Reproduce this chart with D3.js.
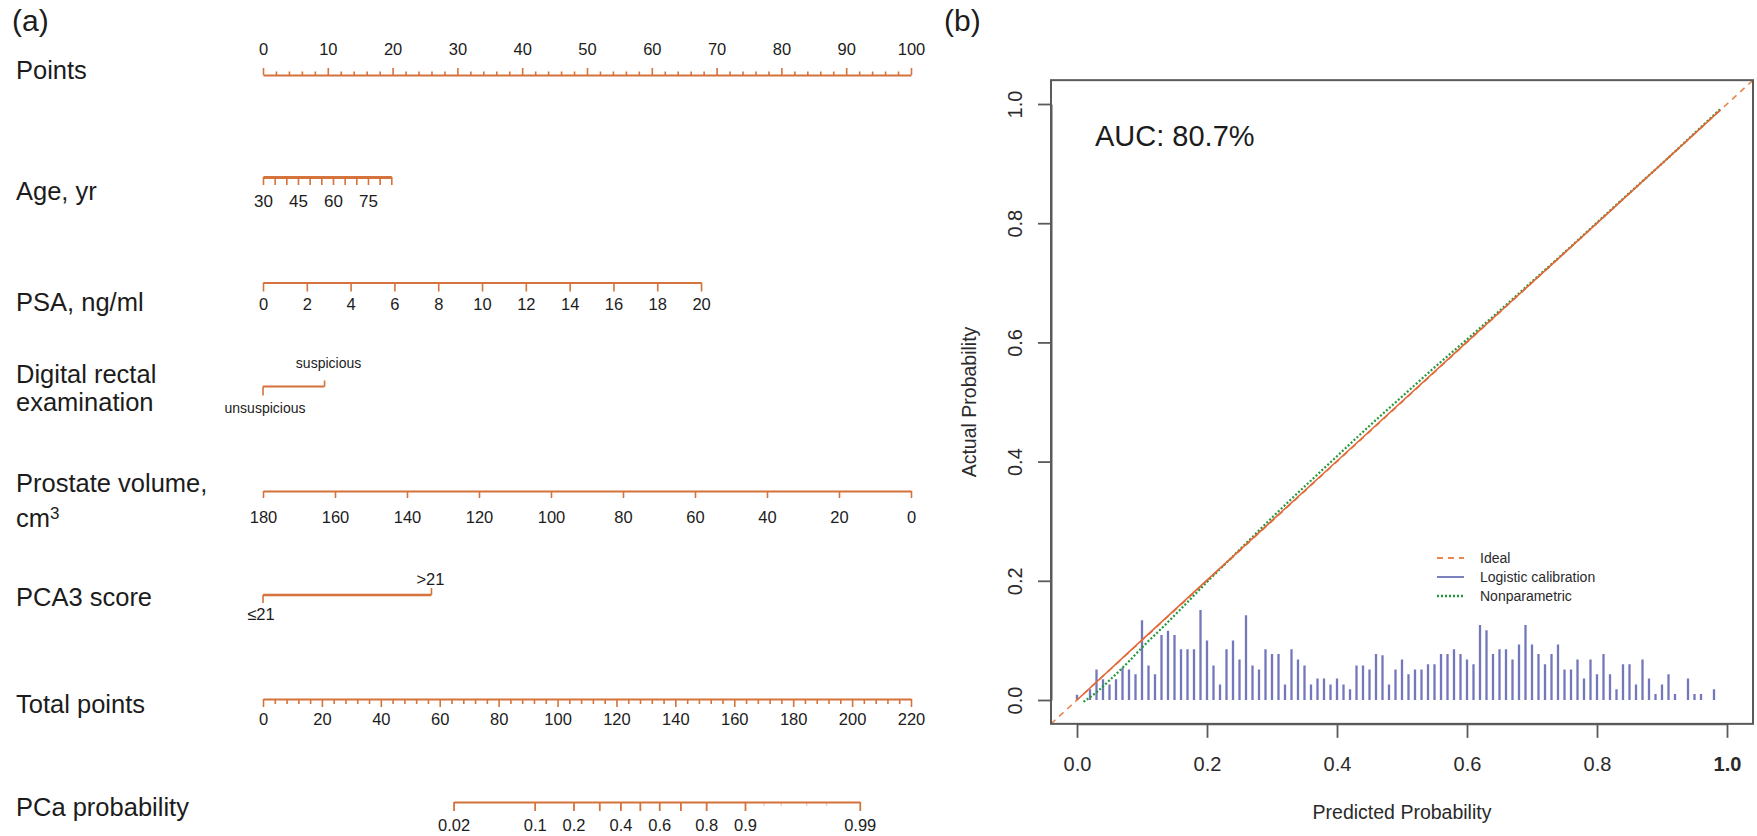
<!DOCTYPE html>
<html><head><meta charset="utf-8">
<script src="https://cdn.jsdelivr.net/npm/d3@7"></script>
<style>
html,body{margin:0;padding:0;background:#fff;}
svg{display:block;}
</style></head>
<body>
<svg id="chart" width="1757" height="836"></svg>
<script>
// ---------------- DATA ----------------
// Nomogram (a)
const rowLabels = ["Points","Age, yr","PSA, ng/ml","Digital rectal","examination","Prostate volume,","PCA3 score","Total points","PCa probability"];
const pointsLabels = [0,10,20,30,40,50,60,70,80,90,100];
const ageTicks = [30,35,40,45,50,55,60,65,70,75,80,85];
const ageLabels = [30,45,60,75];
const agePointsRange = [0, 19.8];          // points at age 30 and 85
const psaTicks = [0,2,4,6,8,10,12,14,16,18,20];
const psaPointsRange = [0, 67.6];          // points at PSA 0 and 20
const dreLevels = ["unsuspicious","suspicious"];
const drePoints = [0, 9.5];
const volumeTicks = [180,160,140,120,100,80,60,40,20,0];
const volumePointsRange = [0, 100];        // points at 180 and 0 cm3
const pca3Levels = ["\u226421", ">21"];
const pca3Points = [0, 26];
const totalLabels = [0,20,40,60,80,100,120,140,160,180,200,220];
const probTicks = [0.02,0.1,0.2,0.3,0.4,0.5,0.6,0.7,0.8,0.9,0.99];
const probLabels = [0.02,0.1,0.2,0.4,0.6,0.8,0.9,0.99];
const probMinor = [0.93,0.95,0.97,0.98];
const probTotalAt = [64.7, 202.6];         // total points at p = 0.02 and 0.99

// Calibration (b)
const aucText = "AUC: 80.7%";
const histX = [0.00,0.02,0.03,0.04,0.05,0.06,0.07,0.08,0.09,0.10,0.11,0.12,0.13,0.14,0.15,0.16,0.17,0.18,0.19,0.20,
  0.21,0.22,0.23,0.24,0.25,0.26,0.27,0.28,0.29,0.30,0.31,0.32,0.33,0.34,0.35,0.36,0.37,0.38,0.39,0.40,
  0.41,0.42,0.43,0.44,0.45,0.46,0.47,0.48,0.49,0.50,0.51,0.52,0.53,0.54,0.55,0.56,0.57,0.58,0.59,0.60,
  0.61,0.62,0.63,0.64,0.65,0.66,0.67,0.68,0.69,0.70,0.71,0.72,0.73,0.74,0.75,0.76,0.77,0.78,0.79,0.80,
  0.81,0.82,0.83,0.84,0.85,0.86,0.87,0.88,0.89,0.90,0.91,0.92,0.94,0.95,0.96,0.98];
const histH = [0.009,0.018,0.051,0.035,0.026,0.035,0.054,0.051,0.043,0.134,0.058,0.043,0.109,0.116,0.109,0.085,0.085,0.085,0.151,0.100,
  0.058,0.026,0.085,0.100,0.068,0.142,0.058,0.051,0.085,0.077,0.077,0.026,0.085,0.068,0.058,0.026,0.036,0.036,0.026,0.036,
  0.026,0.018,0.058,0.058,0.051,0.077,0.075,0.026,0.051,0.068,0.043,0.051,0.051,0.060,0.060,0.077,0.077,0.085,0.077,0.068,
  0.060,0.126,0.117,0.077,0.085,0.085,0.068,0.093,0.126,0.093,0.077,0.060,0.077,0.093,0.051,0.051,0.068,0.036,0.068,0.043,
  0.077,0.043,0.018,0.060,0.060,0.026,0.068,0.036,0.010,0.026,0.043,0.010,0.036,0.010,0.010,0.018];
const idealX = [-0.04, 1.04];
const idealY = [-0.04, 1.04];
const calX = [0.00,0.10,0.20,0.40,0.60,0.80,0.99];
const calY = [0.00,0.101,0.201,0.401,0.601,0.800,0.99];
const npX = [0.01,0.03,0.05,0.08,0.10,0.13,0.16,0.20,0.25,0.30,0.35,0.40,0.45,0.50,0.55,0.60,0.65,0.70,0.75,0.80,0.85,0.90,0.95,0.99];
const npY = [-0.003,0.013,0.033,0.065,0.088,0.120,0.153,0.198,0.252,0.306,0.358,0.409,0.460,0.509,0.558,0.605,0.653,0.702,0.751,0.801,0.851,0.900,0.951,0.992];
const calTicks = [0,0.2,0.4,0.6,0.8,1.0];
const legendLabels = ["Ideal","Logistic calibration","Nonparametric"];

// ---------------- STYLE ----------------
const FONT = "'Liberation Sans', Arial, Helvetica, sans-serif";
const ORANGE = "#d4733b";
const TXT = "#1c1c1c";
const svg = d3.select("#chart");
svg.append("rect").attr("width",1757).attr("height",836).attr("fill","#fff");

// ---------------- PANEL (a) ----------------
const ptsX = d3.scaleLinear().domain([0,100]).range([263, 911]);
const totX = d3.scaleLinear().domain([0,220]).range([263, 911]);

svg.append("text").attr("x",12).attr("y",31).attr("font-family",FONT).attr("font-size",30).attr("fill",TXT).text("(a)");

// row labels
const labelY = [79,200,311,383,411,492,606,713,816];
rowLabels.forEach((t,i)=>{
  svg.append("text").attr("x",16).attr("y",labelY[i]).attr("font-family",FONT)
    .attr("font-size",25.5).attr("fill",TXT).text(t);
});
const cm = svg.append("text").attr("x",16).attr("y",527).attr("font-family",FONT).attr("font-size",25.5).attr("fill",TXT);
cm.append("tspan").text("cm");
cm.append("tspan").attr("dy",-8).attr("font-size",17).text("3");

function styleAxis(g, baseOff){
  g.select(".domain").attr("stroke",ORANGE).attr("stroke-width",2);
  g.selectAll(".tick line").attr("stroke",ORANGE).attr("stroke-width",1.6);
  g.selectAll(".tick text").attr("y",baseOff).attr("dy",null)
    .attr("font-family",FONT).attr("font-size",16.5).attr("fill",TXT);
}

// Points axis (ticks up)
{
  const g = svg.append("g").attr("transform","translate(0,75)")
    .call(d3.axisTop(ptsX).tickValues(d3.range(0,101,2))
      .tickFormat(d => pointsLabels.includes(d) ? d : "").tickSize(3.5).tickSizeOuter(0));
  styleAxis(g, -20);
  g.selectAll(".tick line").attr("y2", d => d%10===0 ? -7 : -3.5);
}

// Age axis
{
  const s = d3.scaleLinear().domain([30,85]).range(agePointsRange.map(ptsX));
  const g = svg.append("g").attr("transform","translate(0,177)")
    .call(d3.axisBottom(s).tickValues(ageTicks).tickFormat(d => ageLabels.includes(d) ? d : "").tickSize(8).tickSizeOuter(0));
  styleAxis(g, 29.5);
  g.select(".domain").attr("stroke-width",2.8);
  g.selectAll(".tick text").attr("font-size",17);
}

// PSA axis
{
  const s = d3.scaleLinear().domain([0,20]).range(psaPointsRange.map(ptsX));
  const g = svg.append("g").attr("transform","translate(0,282.5)")
    .call(d3.axisBottom(s).tickValues(psaTicks).tickSize(9).tickSizeOuter(0));
  styleAxis(g, 27.5);
}

// DRE
{
  const y0 = 386.5;
  const xs = drePoints.map(ptsX);
  svg.append("line").attr("x1",xs[0]).attr("x2",xs[1]).attr("y1",y0).attr("y2",y0).attr("stroke",ORANGE).attr("stroke-width",2);
  svg.append("line").attr("x1",xs[0]).attr("x2",xs[0]).attr("y1",y0).attr("y2",y0+9).attr("stroke",ORANGE).attr("stroke-width",1.6);
  svg.append("line").attr("x1",xs[1]).attr("x2",xs[1]).attr("y1",y0).attr("y2",y0-6).attr("stroke",ORANGE).attr("stroke-width",1.6);
  svg.append("text").attr("x",xs[0]+2).attr("y",413).attr("text-anchor","middle").attr("font-family",FONT).attr("font-size",14).attr("fill",TXT).text(dreLevels[0]);
  svg.append("text").attr("x",xs[1]+4).attr("y",368).attr("text-anchor","middle").attr("font-family",FONT).attr("font-size",14).attr("fill",TXT).text(dreLevels[1]);
}

// Prostate volume
{
  const s = d3.scaleLinear().domain([180,0]).range(volumePointsRange.map(ptsX));
  const g = svg.append("g").attr("transform","translate(0,491)")
    .call(d3.axisBottom(s).tickValues(volumeTicks).tickSize(7).tickSizeOuter(0));
  styleAxis(g, 32);
}

// PCA3
{
  const y0 = 595;
  const xs = pca3Points.map(ptsX);
  svg.append("line").attr("x1",xs[0]).attr("x2",xs[1]).attr("y1",y0).attr("y2",y0).attr("stroke",ORANGE).attr("stroke-width",2.4);
  svg.append("line").attr("x1",xs[0]).attr("x2",xs[0]).attr("y1",y0).attr("y2",y0+8).attr("stroke",ORANGE).attr("stroke-width",1.6);
  svg.append("line").attr("x1",xs[1]).attr("x2",xs[1]).attr("y1",y0).attr("y2",y0-7).attr("stroke",ORANGE).attr("stroke-width",1.6);
  svg.append("text").attr("x",xs[0]-2).attr("y",620).attr("text-anchor","middle").attr("font-family",FONT).attr("font-size",16.5).attr("fill",TXT).text(pca3Levels[0]);
  svg.append("text").attr("x",xs[1]-1).attr("y",585).attr("text-anchor","middle").attr("font-family",FONT).attr("font-size",16.5).attr("fill",TXT).text(pca3Levels[1]);
}

// Total points
{
  const g = svg.append("g").attr("transform","translate(0,699)")
    .call(d3.axisBottom(totX).tickValues(d3.range(0,221,4))
      .tickFormat(d => totalLabels.includes(d) ? d : "").tickSize(5).tickSizeOuter(0));
  styleAxis(g, 26);
  g.selectAll(".tick line").attr("y2", d => d%20===0 ? 8 : 5);
}

// PCa probability (logit-linear in total points)
{
  const logit = p => Math.log(p/(1-p));
  const s = d3.scaleLinear().domain([logit(0.02), logit(0.99)]).range(probTotalAt.map(totX));
  const g = svg.append("g").attr("transform","translate(0,802)")
    .call(d3.axisBottom(s).tickValues(probTicks.map(logit))
      .tickFormat((d,i) => probLabels.includes(probTicks[i]) ? String(probTicks[i]) : "").tickSize(9).tickSizeOuter(0));
  styleAxis(g, 29);
  g.selectAll(".tick line").attr("stroke-width",1.8);
  const gm = svg.append("g").attr("transform","translate(0,802)")
    .call(d3.axisBottom(s).tickValues(probMinor.map(logit)).tickFormat("").tickSize(4).tickSizeOuter(0));
  gm.select(".domain").remove();
  gm.selectAll(".tick line").attr("stroke",ORANGE).attr("stroke-opacity",0.35).attr("stroke-width",1.4);
}

// ---------------- PANEL (b) ----------------
const xS = d3.scaleLinear().domain([0,1]).range([1077,1727]);
const yS = d3.scaleLinear().domain([0,1]).range([700,104]);
const bx0 = xS(-0.04), bx1 = xS(1.04), by0 = yS(-0.04), by1 = yS(1.04);

svg.append("text").attr("x",944).attr("y",31).attr("font-family",FONT).attr("font-size",30).attr("fill",TXT).text("(b)");

svg.append("clipPath").attr("id","plotclip").append("rect")
  .attr("x",bx0).attr("y",by1).attr("width",bx1-bx0).attr("height",by0-by1);
const plot = svg.append("g").attr("clip-path","url(#plotclip)");

// histogram spikes
plot.selectAll("line.spike").data(histX).join("line").attr("class","spike")
  .attr("x1",d=>xS(d)).attr("x2",d=>xS(d))
  .attr("y1",yS(0)).attr("y2",(d,i)=>yS(histH[i]))
  .attr("stroke","#7378bb").attr("stroke-width",2.3);

const line = d3.line().x(d=>xS(d[0])).y(d=>yS(d[1]));
// ideal
plot.append("path").datum(idealX.map((x,i)=>[x,idealY[i]])).attr("d",line)
  .attr("fill","none").attr("stroke","#e8864c").attr("stroke-width",1.6).attr("stroke-dasharray","6,5");
// nonparametric
plot.append("path").datum(npX.map((x,i)=>[x,npY[i]])).attr("d",d3.line().x(d=>xS(d[0])).y(d=>yS(d[1])).curve(d3.curveMonotoneX))
  .attr("fill","none").attr("stroke","#22993a").attr("stroke-width",2.2).attr("stroke-dasharray","2,2");
// calibration (appears solid orange)
plot.append("path").datum(calX.map((x,i)=>[x,calY[i]])).attr("d",line)
  .attr("fill","none").attr("stroke","#e2683a").attr("stroke-width",1.6);

// box
svg.append("rect").attr("x",bx0).attr("y",by1).attr("width",bx1-bx0).attr("height",by0-by1)
  .attr("fill","none").attr("stroke","#5a5a5a").attr("stroke-width",2);

// x axis
{
  const g = svg.append("g").attr("transform",`translate(0,${by0})`)
    .call(d3.axisBottom(xS).tickValues(calTicks).tickFormat(d3.format(".1f")).tickSize(14).tickSizeOuter(0));
  g.select(".domain").attr("stroke","#5a5a5a").attr("stroke-width",2);
  g.selectAll(".tick line").attr("stroke","#5a5a5a").attr("stroke-width",1.8);
  g.selectAll(".tick text").attr("y",47).attr("dy",null).attr("font-family",FONT).attr("font-size",20).attr("fill","#2a2a2a")
    .attr("font-weight",d=>d===1?"bold":"normal");
}
// y axis
{
  const g = svg.append("g").attr("transform",`translate(${bx0},0)`)
    .call(d3.axisLeft(yS).tickValues(calTicks).tickFormat(d3.format(".1f")).tickSize(13).tickSizeOuter(0));
  g.select(".domain").attr("stroke","#5a5a5a").attr("stroke-width",2);
  g.selectAll(".tick line").attr("stroke","#5a5a5a").attr("stroke-width",1.8);
  g.selectAll(".tick text").attr("x",0).attr("y",-29).attr("dy",null).attr("transform","rotate(-90)")
    .attr("text-anchor","middle").attr("font-family",FONT).attr("font-size",20).attr("fill","#2a2a2a");
}
svg.append("text").attr("x",xS(0.5)).attr("y",819).attr("text-anchor","middle").attr("font-family",FONT)
  .attr("font-size",19.5).attr("fill","#2a2a2a").text("Predicted Probability");
svg.append("text").attr("transform",`translate(976,${yS(0.5)}) rotate(-90)`).attr("text-anchor","middle").attr("font-family",FONT)
  .attr("font-size",19.5).attr("fill","#2a2a2a").text("Actual Probability");
svg.append("text").attr("x",1095).attr("y",146).attr("font-family",FONT).attr("font-size",29).attr("fill",TXT).text(aucText);

// legend
{
  const ly = [558,577,596];
  const styles = [
    {c:"#e8864c", d:"6,5", w:1.8},
    {c:"#6d72b8", d:null, w:1.8},
    {c:"#22993a", d:"2,2", w:2.4}
  ];
  legendLabels.forEach((t,i)=>{
    svg.append("line").attr("x1",1437).attr("x2",1464).attr("y1",ly[i]).attr("y2",ly[i])
      .attr("stroke",styles[i].c).attr("stroke-width",styles[i].w).attr("stroke-dasharray",styles[i].d);
    svg.append("text").attr("x",1480).attr("y",ly[i]+5).attr("font-family",FONT).attr("font-size",14)
      .attr("fill","#2a2a2a").text(t);
  });
}
</script>
</body></html>
